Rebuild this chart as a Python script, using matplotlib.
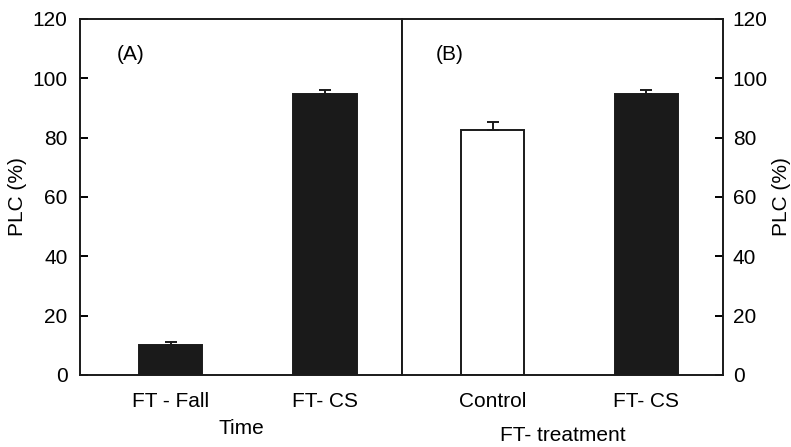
import numpy as np
import matplotlib
matplotlib.use("Agg")
import matplotlib.pyplot as plt

plt.rcParams['font.family'] = ['Liberation Sans', 'DejaVu Sans']

# data
time_labels = ["FT - Fall", "FT- CS"]
time_plc = [10.1, 94.6]
time_err = [1.1, 1.4]

treat_labels = ["Control", "FT- CS"]
treat_plc = [82.6, 94.6]
treat_err = [2.8, 1.4]
treat_colors = ["white", "#1a1a1a"]

fig = plt.figure(figsize=(7.91, 4.47), dpi=100)
axA = fig.add_axes([80/791, 72/447, 322/791, 356/447])
axB = fig.add_axes([402/791, 72/447, 321/791, 356/447])

x = np.arange(2)
bw = 0.41
lw = 1.4
fs = 15

axA.bar(x, time_plc, width=bw, color="#1a1a1a", edgecolor="#1a1a1a", linewidth=lw,
        yerr=[[0, 0], time_err], error_kw=dict(ecolor="#1a1a1a", elinewidth=lw, capsize=4.5, capthick=lw))
axB.bar(x, treat_plc, width=bw, color=treat_colors, edgecolor="#1a1a1a", linewidth=lw,
        yerr=[[0, 0], treat_err], error_kw=dict(ecolor="#1a1a1a", elinewidth=lw, capsize=4.5, capthick=lw))

for ax, labels in [(axA, time_labels), (axB, treat_labels)]:
    ax.set_xlim(-0.59, 1.5)
    ax.set_ylim(0, 120)
    ax.set_xticks(x)
    ax.set_xticklabels(labels, fontsize=fs)
    ax.tick_params(axis='x', length=0, pad=12)
    for s in ax.spines.values():
        s.set_linewidth(lw)
        s.set_color("#1a1a1a")

axA.set_yticks(np.arange(0, 121, 20))
axA.tick_params(axis='y', direction='in', length=6, width=lw, labelsize=fs, pad=9)
axA.set_ylabel("PLC (%)", fontsize=fs, labelpad=4)
axA.set_xlabel("Time", fontsize=fs, labelpad=6)

axB.yaxis.tick_right()
axB.yaxis.set_label_position("right")
axB.set_yticks(np.arange(0, 121, 20))
axB.tick_params(axis='y', direction='in', length=6, width=lw, labelsize=fs, pad=7,
                left=False, right=True, labelleft=False, labelright=True)
axB.set_ylabel("PLC (%)", fontsize=fs, labelpad=3)
axB.set_xlabel("FT- treatment", fontsize=fs, labelpad=11)

axA.text(0.115, 0.90, "(A)", transform=axA.transAxes, fontsize=fs, va='center')
axB.text(0.105, 0.90, "(B)", transform=axB.transAxes, fontsize=fs, va='center')

fig.savefig("out.png", dpi=100)
